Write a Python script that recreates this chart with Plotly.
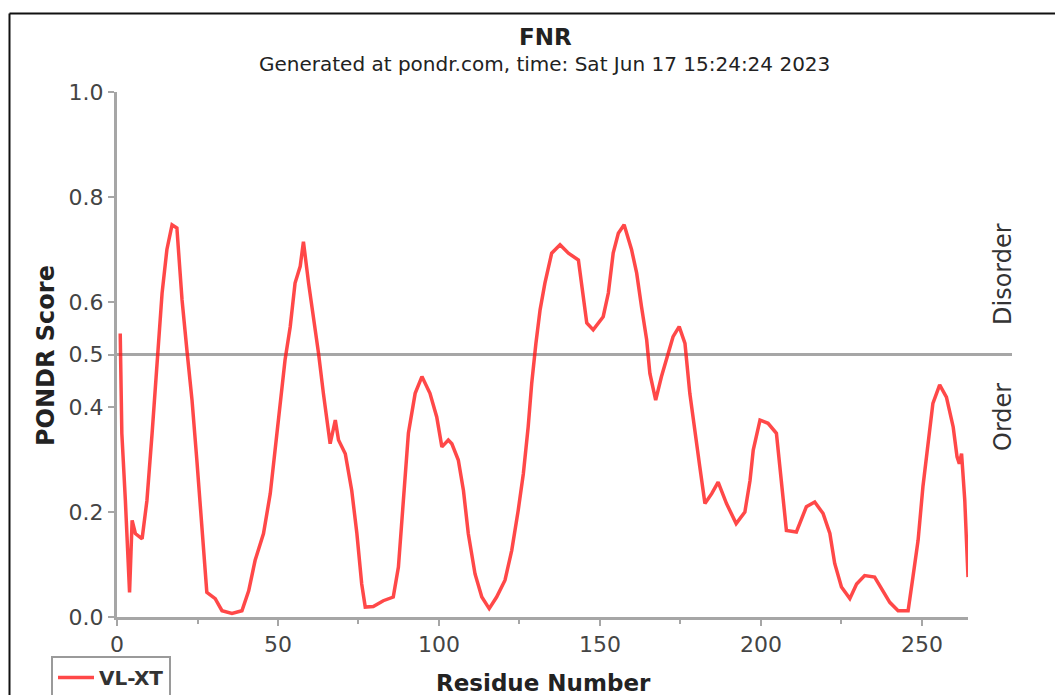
import plotly.graph_objects as go

# ---------------- data ----------------
residue = [
    1, 1.5, 2.6, 3.9, 4.7, 5.7, 7.8, 9.3, 10.9, 12.4,
    14, 15.5, 17.1, 18.6, 20.2, 21.7, 23.3, 24.8, 26.4, 27.9,
    30.5, 32.6, 35.7, 38.8, 40.9, 42.9, 45.5, 47.6, 49.1, 50.7,
    52.2, 53.8, 55.3, 56.9, 57.9, 59.5, 61, 62.6, 64.1, 66.2,
    67.8, 68.8, 70.9, 72.9, 74.5, 76, 77.1, 79.6, 82.7, 85.8,
    87.4, 89, 90.5, 92.6, 94.7, 97.2, 99.3, 100.9, 102.9, 104,
    106, 107.6, 109.1, 111.2, 113.3, 115.6, 117.9, 120.5, 122.6, 124.6,
    126.2, 127.7, 128.8, 130.1, 131.4, 132.9, 135, 137.6, 140.2, 143.3,
    144.8, 145.9, 147.9, 151, 152.6, 154.1, 155.7, 157.5, 159.8, 161.4,
    162.9, 164.5, 165.5, 167.3, 169.1, 171.2, 172.7, 174.6, 176.4, 177.9,
    179.5, 181, 182.6, 184.7, 186.7, 189.3, 192.3, 195, 196.6, 197.6,
    199.7, 202.2, 204.8, 206.4, 207.9, 211, 214.1, 216.7, 219.3, 221.4,
    222.9, 225, 227.6, 229.7, 232.2, 235.3, 237.9, 240, 242.6, 245.7,
    247.2, 248.8, 250.3, 251.9, 253.4, 255.5, 257.6, 259.7, 260.9, 261.6,
    262.3, 263.3, 264.3,
]
vlxt_score = [
    0.54, 0.35, 0.222, 0.047, 0.184, 0.159, 0.149, 0.222, 0.35, 0.477,
    0.617, 0.70, 0.747, 0.741, 0.604, 0.509, 0.413, 0.299, 0.159, 0.047,
    0.035, 0.012, 0.007, 0.012, 0.05, 0.108, 0.159, 0.235, 0.318, 0.413,
    0.49, 0.553, 0.636, 0.668, 0.715, 0.636, 0.572, 0.502, 0.426, 0.33,
    0.375, 0.337, 0.311, 0.241, 0.159, 0.063, 0.019, 0.02, 0.031, 0.038,
    0.095, 0.222, 0.35, 0.426, 0.458, 0.426, 0.381, 0.324, 0.337, 0.33,
    0.299, 0.241, 0.159, 0.082, 0.038, 0.016, 0.038, 0.07, 0.127, 0.203,
    0.273, 0.362, 0.445, 0.521, 0.585, 0.636, 0.693, 0.709, 0.693, 0.68,
    0.61, 0.56, 0.547, 0.572, 0.617, 0.693, 0.731, 0.747, 0.70, 0.655,
    0.591, 0.528, 0.464, 0.413, 0.458, 0.502, 0.534, 0.553, 0.521, 0.426,
    0.35, 0.286, 0.216, 0.235, 0.257, 0.216, 0.178, 0.2, 0.26, 0.318,
    0.375, 0.369, 0.35, 0.248, 0.165, 0.162, 0.21, 0.219, 0.197, 0.159,
    0.102, 0.057, 0.035, 0.063, 0.079, 0.076, 0.051, 0.028, 0.012, 0.012,
    0.076, 0.146, 0.248, 0.337, 0.407, 0.442, 0.419, 0.362, 0.305, 0.292,
    0.311, 0.222, 0.076,
]
assert len(residue) == len(vlxt_score)

y_tick_vals = [0.0, 0.2, 0.4, 0.5, 0.6, 0.8, 1.0]
y_tick_text = ["0.0", "0.2", "0.4", "0.5", "0.6", "0.8", "1.0"]
x_tick_vals = [0, 50, 100, 150, 200, 250]
x_tick_text = ["0", "50", "100", "150", "200", "250"]
threshold = 0.5
x_end = 264.3

title_text = "FNR"
subtitle_text = "Generated at pondr.com, time: Sat Jun 17 15:24:24 2023"
series_name = "VL-XT"

# ---------------- layout helpers ----------------
W, H = 1055, 695
L, R, T, B = 117, 87, 92, 78
PW, PH = W - L - R, H - T - B
FONT = "DejaVu Sans"
GRAY = "#a6a6a6"


def px_x(px):
    return (px - L) / PW


def px_y(py):
    return (H - B - py) / PH


fig = go.Figure()
fig.add_trace(go.Scatter(
    x=residue, y=vlxt_score, mode="lines", name=series_name,
    line=dict(color="rgba(255,20,20,0.78)", width=3.5),
))

shapes = [
    # threshold line at 0.5 extending past the x axis end
    dict(type="line", xref="paper", yref="y", x0=0, x1=px_x(1012), y0=threshold, y1=threshold,
         line=dict(color=GRAY, width=3), layer="below"),
    # outer frame (top and left edges)
    dict(type="line", xref="paper", yref="paper", x0=px_x(9.5), x1=px_x(1060),
         y0=px_y(13.5), y1=px_y(13.5), line=dict(color="#111111", width=2)),
    dict(type="line", xref="paper", yref="paper", x0=px_x(9.5), x1=px_x(9.5),
         y0=px_y(13.5), y1=px_y(700), line=dict(color="#111111", width=2)),
]

annotations = [
    dict(text=f"<b>{title_text}</b>", xref="paper", yref="paper", x=px_x(545), y=px_y(37),
         showarrow=False, xanchor="center", yanchor="middle",
         font=dict(family=FONT, size=23, color="#222222")),
    dict(text=subtitle_text, xref="paper", yref="paper", x=px_x(544), y=px_y(64),
         showarrow=False, xanchor="center", yanchor="middle",
         font=dict(family=FONT, size=20, color="#222222")),
    dict(text="<b>Residue Number</b>", xref="paper", yref="paper", x=px_x(543), y=px_y(683),
         showarrow=False, xanchor="center", yanchor="middle",
         font=dict(family=FONT, size=23, color="#222222")),
    dict(text="<b>PONDR Score</b>", xref="paper", yref="paper", x=px_x(46), y=px_y(356),
         showarrow=False, xanchor="center", yanchor="middle", textangle=-90,
         font=dict(family=FONT, size=24, color="#222222")),
    dict(text="Disorder", xref="paper", yref="paper", x=px_x(1003), y=px_y(274),
         showarrow=False, xanchor="center", yanchor="middle", textangle=-90,
         font=dict(family=FONT, size=24, color="#333333")),
    dict(text="Order", xref="paper", yref="paper", x=px_x(1003), y=px_y(417),
         showarrow=False, xanchor="center", yanchor="middle", textangle=-90,
         font=dict(family=FONT, size=24, color="#333333")),
]

fig.update_layout(
    width=W, height=H,
    margin=dict(l=L, r=R, t=T, b=B, pad=0, autoexpand=False),
    paper_bgcolor="white", plot_bgcolor="white",
    showlegend=True,
    legend=dict(x=px_x(51), y=px_y(656), xanchor="left", yanchor="top",
                bordercolor="#9a9a9a", borderwidth=2, bgcolor="white",
                font=dict(family=FONT, size=20, color="#333333", weight="bold"),
                itemwidth=36, tracegroupgap=0),
    shapes=shapes,
    annotations=annotations,
    xaxis=dict(
        range=[0, x_end], showgrid=False, zeroline=False,
        showline=True, linecolor=GRAY, linewidth=3,
        tickvals=x_tick_vals, ticktext=x_tick_text,
        ticks="outside", ticklen=6, tickwidth=2, tickcolor=GRAY,
        minor=dict(tick0=0, dtick=25, ticks="outside", ticklen=4, tickwidth=2, tickcolor=GRAY),
        tickfont=dict(family=FONT, size=22, color="#444444"),
    ),
    yaxis=dict(
        range=[0, 1.0], showgrid=False, zeroline=False,
        showline=True, linecolor=GRAY, linewidth=3,
        tickvals=y_tick_vals, ticktext=y_tick_text,
        ticks="outside", ticklen=6, tickwidth=2, tickcolor=GRAY,
        tickfont=dict(family=FONT, size=22, color="#444444"),
    ),
)

fig.write_html("out.html")
